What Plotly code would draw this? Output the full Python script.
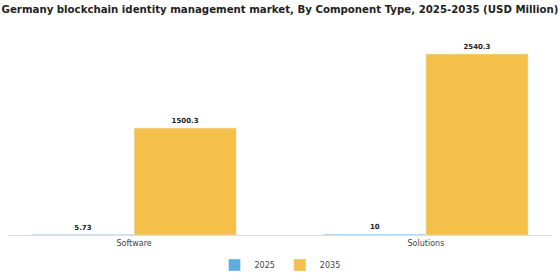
import plotly.graph_objects as go

categories = ["Software", "Solutions"]
years = ["2025", "2035"]
values_2025 = [5.73, 10]
values_2035 = [1500.3, 2540.3]
labels_2025 = ["5.73", "10"]
labels_2035 = ["1500.3", "2540.3"]
colors = {"2025": "#5DADE2", "2035": "#F5C04A"}

fig = go.Figure()
for yr, vals, labs in [("2025", values_2025, labels_2025), ("2035", values_2035, labels_2035)]:
    fig.add_trace(go.Bar(
        x=categories, y=vals, name=yr, marker_color=colors[yr],
        text=labs, textposition="outside", cliponaxis=False,
        textfont=dict(family="DejaVu Sans", size=7, color="#222222", weight="bold"),
    ))

fig.update_layout(
    width=560, height=280,
    margin=dict(l=8, r=8, t=35, b=45, autoexpand=False),
    paper_bgcolor="white", plot_bgcolor="white",
    barmode="group", bargap=0.3, bargroupgap=0,
    title=dict(text="<b>Germany blockchain identity management market, By Component Type, 2025-2035 (USD Million)</b>",
               x=0.5, xanchor="center", y=0.965, yanchor="middle",
               font=dict(family="DejaVu Sans", size=10.2, color="#222222")),
    xaxis=dict(range=[-0.432, 1.432], showline=True, linecolor="#dddddd", linewidth=1,
               ticks="", tickfont=dict(family="DejaVu Sans", size=8, color="#444444"), showgrid=False),
    yaxis=dict(range=[0, 2807], visible=False, showgrid=False),
    legend=dict(orientation="h", x=0.5, xanchor="center", y=-0.15, yanchor="middle",
                itemwidth=30, tracegroupgap=0,
                font=dict(family="DejaVu Sans", size=8, color="#444444")),
    showlegend=True,
)
fig.write_html("out.html")
